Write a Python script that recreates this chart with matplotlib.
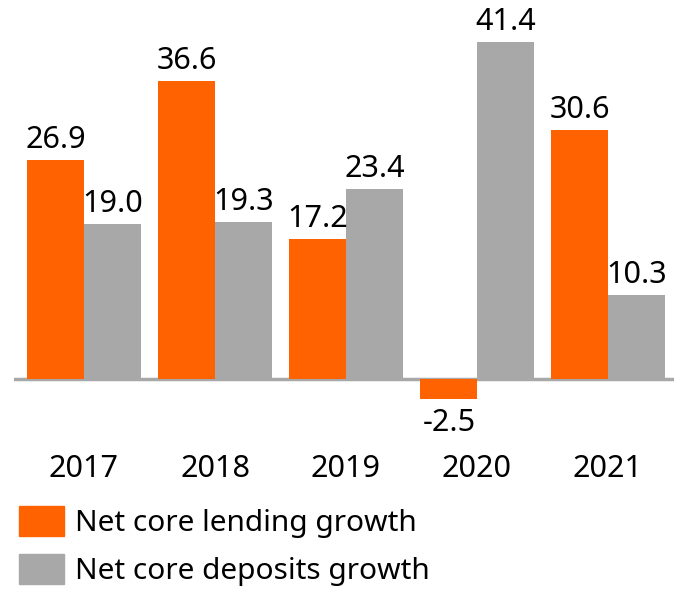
import numpy as np
import matplotlib
matplotlib.use('Agg')
import matplotlib.pyplot as plt
from matplotlib.patches import Patch

years = ['2017', '2018', '2019', '2020', '2021']
lending = [26.9, 36.6, 17.2, -2.5, 30.6]
deposits = [19.0, 19.3, 23.4, 41.4, 10.3]
labels = ['Net core lending growth', 'Net core deposits growth']

orange = '#FF6200'
grey = '#A8A8A8'

plt.rcParams['font.family'] = ['Noto Sans', 'DejaVu Sans']

W, H = 674, 590
fig = plt.figure(figsize=(W / 100, H / 100), dpi=100)

# axes placed in pixel terms: zero line at y=379, 8.14 px per unit
px_per_unit = 8.14
ax_top, ax_bot = 20, 430
ax = fig.add_axes([14 / W, 1 - ax_bot / H, (674 - 14) / W, (ax_bot - ax_top) / H])
ax.set_ylim(-(ax_bot - 379) / px_per_unit, (379 - ax_top) / px_per_unit)

x = np.arange(len(years))
w = 0.435
ax.set_xlim(-0.535, 4.5)

b1 = ax.bar(x - w / 2, lending, w, color=orange, zorder=3)
b2 = ax.bar(x + w / 2, deposits, w, color=grey, zorder=3)
ax.axhline(0, color=grey, lw=2.5, zorder=2)

for bars in (b1, b2):
    for rect in bars:
        v = rect.get_height()
        cx = rect.get_x() + rect.get_width() / 2
        # offsets in points (1pt = 1.389 px at 100 dpi)
        dy = 8.6 if v >= 0 else -23
        ax.annotate(f'{v:.1f}', (cx, v), xytext=(0, dy), textcoords='offset points',
                    ha='center', va='baseline', fontsize=22)

for xi, yr in zip(x, years):
    fig.text((84 + xi * 131) / W, 1 - 477 / H, yr, ha='center', va='baseline', fontsize=22)

ax.set_xticks([])
ax.set_yticks([])
for s in ax.spines.values():
    s.set_visible(False)

handles = [Patch(color=orange), Patch(color=grey)]
fig.legend(handles, labels, loc='upper left', bbox_to_anchor=(19 / W, 1 - 506 / H),
           frameon=False, fontsize=21.5, handlelength=1.5, handleheight=1.16,
           handletextpad=0.38, labelspacing=0.55, borderpad=0, borderaxespad=0)

fig.savefig('out.png', dpi=100)
